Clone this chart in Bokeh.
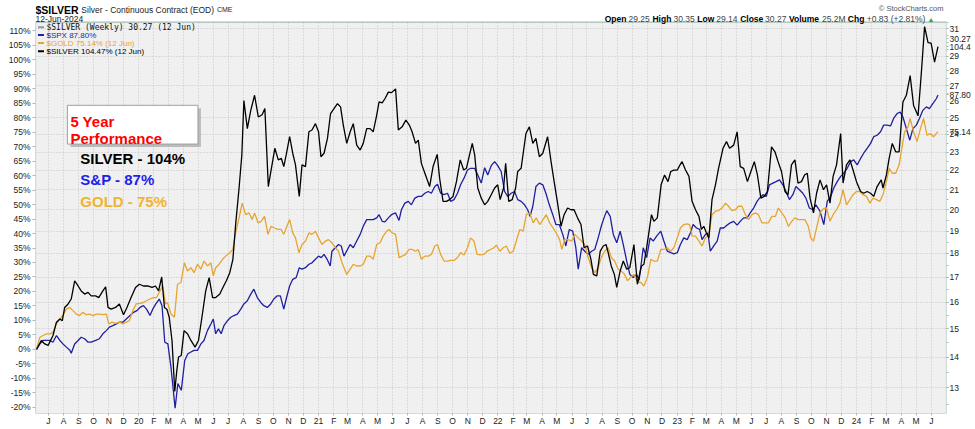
import numpy as np
import pandas as pd
from bokeh.plotting import figure
from bokeh.models import (Range1d, LogScale, LogAxis, FixedTicker, PrintfTickFormatter,
                          CustomJSTickFormatter, Label, Grid)
from bokeh.embed import file_html
from bokeh.resources import INLINE

# ---------------- data (weeks since first bar, % performance) ----------------
first_week = "2019-06-07"

silver_week = [0, 1.4, 2.4, 3.4, 4.8, 5.8, 6.8, 7.5, 8.2, 9.2, 10.1, 11.1, 12.1, 13.0, 14.0, 15.0, 15.9,
               17.2, 18.1, 19.3, 20.1, 20.8, 21.7, 23.0, 24.1, 25.3, 26.3, 27.5, 28.8, 29.9, 31.1, 32.3,
               33.6, 34.6, 35.5, 36.4, 37.2, 37.9, 38.6, 39.4, 40.2, 40.8, 41.3, 42.1, 42.9, 43.9, 44.9,
               46.1, 47.1, 48.1, 49.2, 50.2, 51.2, 52.1, 53.3, 54.2, 55.2, 56.2, 57.1, 57.9, 58.9, 59.7,
               60.3, 61.3, 62.3, 63.4, 64.5, 65.6, 66.4, 67.4, 68.3, 69.3, 70.3, 71.2, 71.9, 72.6, 73.6,
               74.5, 75.3, 76.4, 77.2, 78.2, 79.2, 80.1, 81.1, 82.0, 82.7, 83.6, 84.6, 85.5, 86.5, 87.5,
               88.4, 89.2, 90.2, 91.2, 92.1, 93.1, 94.1, 95.0, 96.0, 97.0, 97.9, 98.9, 99.6, 100.5, 101.3,
               102.3, 103.2, 104.4, 105.2, 106.3, 107.4, 108.4, 109.2, 110.2, 111.0, 111.9, 113.1, 114.3,
               115.3, 116.5, 117.2, 118.2, 119.2, 120.1, 121.1, 122.1, 123.2, 124.2, 125.0, 125.9, 126.7,
               127.4, 128.3, 129.3, 130.3, 131.2, 132.2, 133.2, 134.1, 134.8, 135.8, 136.4, 137.3, 138.3,
               139.3, 139.9, 140.9, 142.3, 143.3, 144.3, 145.2, 146.2, 147.2, 148.6, 149.6, 150.5, 151.5,
               152.5, 153.4, 154.4, 155.4, 156.3, 157.3, 158.3, 159.2, 160.2, 161.2, 161.9, 162.9, 163.9,
               164.8, 165.6, 166.2, 167.1, 168.0, 168.7, 169.7, 170.6, 171.6, 172.5, 173.7, 174.7, 175.9,
               176.6, 177.4, 178.1, 178.8, 179.5, 180.5, 181.6, 182.6, 183.6, 184.4, 185.3, 186.3, 187.1,
               187.7, 188.7, 189.7, 190.6, 191.6, 192.6, 193.3, 194.0, 194.8, 195.5, 196.4, 197.4, 198.3,
               199.6, 200.6, 201.5, 202.7, 203.7, 204.6, 205.6, 206.7, 207.7, 208.7, 209.6, 210.6, 211.6,
               212.5, 213.7, 214.7, 215.6, 216.6, 217.6, 218.5, 219.5, 220.5, 221.4, 222.4, 223.3, 224.1,
               224.9, 225.9, 226.8, 227.8, 228.8, 229.7, 230.7, 231.6, 232.6, 233.8, 234.5, 235.5, 236.5,
               237.4, 238.4, 239.6, 240.5, 241.5, 242.5, 243.4, 244.4, 245.6, 246.1, 247.1, 247.9, 248.8,
               249.8, 250.8, 251.9, 252.9, 254.0, 255.0, 256.3, 257.2, 258.2, 259.2, 260.1, 261.1, 262.1]
silver_pct = [0, 3.1, 1.9, 1.4, 4.8, 9.4, 10.5, 9.9, 14.5, 15.7, 17.4, 23.7, 21.9, 20.2, 19.1, 19.7, 18.5,
              18.5, 17.9, 20.2, 21.6, 14.5, 13.9, 14.5, 15.7, 12.0, 14.5, 17.9, 21.4, 22.5, 21.9, 21.9,
              21.4, 21.9, 20.2, 25.0, 14.5, 13.9, 11.1, 3.1, -14.5, -7.2, -2.6, -2.1, 6.5, 5.4, 3.1,
              0.8, 3.1, 11.1, 20.2, 24.8, 17.9, 17.9, 19.1, 21.4, 23.7, 26.5, 31.1, 43.1, 55.7, 67.1,
              85.9, 76.2, 82.5, 87.7, 80.2, 81.0, 83.1, 56.2, 62.5, 69.4, 65.4, 65.9, 63.1, 67.1, 73.4,
              67.7, 63.7, 52.8, 63.7, 63.1, 75.1, 75.7, 77.9, 75.1, 66.5, 67.7, 72.8, 81.4, 83.1, 84.8,
              83.7, 77.4, 71.1, 75.1, 77.9, 70.5, 68.8, 71.1, 76.2, 76.2, 75.1, 80.8, 85.4, 85.1, 86.5,
              88.8, 88.6, 89.9, 75.7, 76.8, 79.1, 77.4, 75.1, 71.1, 72.2, 64.2, 60.2, 56.2,
              63.1, 67.3, 59.1, 51.1, 51.1, 51.7, 52.8, 57.9, 65.4, 61.9, 62.5, 67.1, 71.1,
              67.1, 55.7, 52.2, 49.9, 51.1, 53.4, 55.7, 56.8, 51.7, 55.7, 64.2, 51.1, 51.7,
              55.7, 61.4, 62.5, 74.5, 76.8, 71.1, 72.8, 66.5, 67.7, 73.4, 64.8, 57.9, 50.5,
              42.5, 46.5, 48.8, 48.2, 48.2, 45.4, 43.1, 35.1, 35.7, 31.1, 25.9, 25.4, 33.9,
              35.7, 36.2, 33.4, 28.8, 25.9, 21.4, 27.1, 30.5, 27.7, 28.2, 36.2, 22.5, 28.8,
              29.4, 35.1, 40.8, 46.5, 44.2, 45.4, 56.8, 60.2, 57.9, 61.4, 61.9, 61.9, 63.7,
              64.8, 61.9, 59.7, 51.1, 48.2, 45.9, 41.4, 42.5, 40.2, 38.5, 51.7, 56.8, 62.5,
              69.4, 71.7, 69.4, 70.5, 75.1, 63.1, 62.5, 57.9, 61.4, 64.8, 60.2, 52.2, 52.8,
              54.5, 69.9, 68.2, 64.8, 61.4, 54.5, 53.4, 63.7, 65.4, 57.4, 57.9, 60.2, 60.8,
              52.2, 47.1, 53.9, 58.5, 55.1, 56.8, 50.5, 59.7, 63.7, 74.5, 57.4, 63.7, 65.4,
              61.9, 57.9, 54.5, 53.9, 54.5, 53.9, 52.8, 56.2, 58.5, 55.7, 60.2, 65.9, 71.1,
              68.2, 68.2, 85.4, 87.7, 94.5, 84.2, 80.6, 94.5, 111.4, 105.9, 105.7, 99.1, 104.47]

spx_week = [0, 1.0, 1.9, 2.9, 3.9, 4.8, 5.8, 6.8, 7.7, 8.7, 9.7, 10.1, 11.1, 12.1, 13.0, 14.0, 15.0, 15.9,
            17.2, 18.3, 19.3, 20.3, 21.2, 22.2, 23.2, 24.1, 25.1, 26.1, 27.2, 28.2, 29.2, 30.1, 31.1,
            32.0, 33.0, 33.8, 34.7, 35.7, 36.5, 37.3, 38.2, 39.1, 40.3, 41.1, 42.1, 43.1, 44.0, 44.9,
            45.8, 46.8, 47.8, 48.7, 49.7, 50.7, 51.4, 52.1, 52.9, 53.7, 54.5, 55.5, 56.5, 57.4, 58.4,
            59.4, 60.3, 61.3, 62.3, 63.2, 64.2, 65.2, 66.1, 67.1, 68.1, 69.0, 70.0, 70.9, 71.9, 72.6,
            73.6, 74.5, 75.5, 76.4, 77.2, 78.2, 79.2, 80.1, 81.1, 82.0, 82.8, 83.6, 84.5, 85.4, 85.9,
            86.9, 87.8, 88.6, 89.4, 91.2, 92.1, 93.1, 94.1, 95.0, 96.0, 97.0, 97.9, 98.9, 99.6, 100.5,
            101.3, 102.3, 103.2, 104.4, 105.4, 106.1, 107.1, 108.1, 109.0, 110.0, 111.0, 111.9, 112.9,
            113.9, 114.8, 115.8, 116.6, 117.5, 118.5, 119.5, 120.4, 121.4, 122.4, 123.3, 124.3, 125.3,
            126.2, 127.4, 128.3, 129.3, 130.3, 131.2, 132.2, 133.2, 134.1, 135.1, 136.1, 137.0, 138.0,
            139.0, 139.9, 140.9, 141.9, 142.8, 143.5, 144.3, 145.2, 146.2, 147.2, 148.1, 149.1, 150.1,
            151.0, 152.0, 153.0, 153.9, 154.9, 155.9, 156.8, 157.5, 158.5, 159.4, 160.4, 161.4, 162.3,
            163.3, 164.2, 165.0, 165.8, 166.8, 167.7, 168.7, 169.7, 170.6, 171.6, 172.5, 173.5, 174.5,
            175.2, 175.8, 176.4, 177.4, 178.4, 179.3, 180.3, 181.5, 182.4, 183.4, 184.4, 185.3, 186.3,
            187.2, 188.2, 189.2, 190.1, 190.9, 191.9, 192.8, 193.5, 194.5, 195.2, 195.9, 196.9, 197.9,
            198.8, 199.8, 200.8, 201.7, 202.7, 203.7, 204.6, 205.6, 206.6, 207.5, 208.5, 209.5, 210.2,
            211.2, 212.2, 213.1, 214.1, 215.0, 216.0, 217.0, 217.9, 218.9, 219.9, 220.8, 221.8, 222.8,
            223.7, 224.7, 225.7, 226.6, 227.8, 228.9, 229.9, 230.9, 231.8, 232.8, 233.8, 234.7, 235.7,
            236.7, 237.6, 238.6, 239.6, 240.5, 241.5, 242.5, 243.4, 244.4, 245.4, 246.3, 247.3, 248.3,
            249.2, 250.2, 251.1, 251.9, 252.9, 253.9, 254.8, 255.8, 256.7, 257.7, 258.7, 259.6, 260.6,
            261.6, 262.1]
spx_pct = [0, 1.9, 3.1, 3.1, 3.1, 2.5, 4.8, 3.1, 1.9, 0.8, -0.3, -1.3, 1.9, 3.1, 4.2, 3.7, 2.5, 2.5,
           3.1, 3.7, 5.4, 6.5, 7.7, 8.2, 8.8, 9.4, 9.4, 10.5, 11.7, 12.8, 13.4, 14.5, 15.1,
           13.9, 11.7, 13.9, 15.7, 17.4, 15.1, 2.5, 1.9, -6.1, -20.3, -11.8, -14.1, -3.8, -1.5, -0.9,
           -0.3, -0.3, 1.9, 3.1, 6.5, 8.8, 10.5, 5.4, 7.1, 5.4, 8.2, 9.9, 11.1, 11.7, 12.2,
           13.9, 15.7, 16.8, 19.1, 20.8, 17.9, 16.2, 15.1, 14.5, 15.7, 17.4, 18.5, 18.5, 13.9, 17.4,
           21.9, 24.2, 24.8, 28.2, 27.7, 28.2, 29.4, 29.9, 31.1, 32.2, 31.7, 32.8, 31.1, 28.8, 33.9,
           35.1, 36.2, 35.7, 32.2, 36.2, 35.1, 37.4, 39.7, 42.5, 44.8, 44.8, 44.8, 45.4, 46.5, 44.2,
           44.0, 45.4, 46.5, 47.1, 44.5, 48.2, 50.5, 51.1, 49.9, 52.2, 52.8, 52.8, 53.9,
           54.5, 53.9, 56.2, 57.0, 53.9, 53.4, 53.9, 51.1, 51.7, 53.9, 56.8, 59.1, 61.9,
           62.5, 62.5, 60.2, 57.4, 62.7, 60.2, 63.4, 64.8, 63.4, 61.4, 54.5, 52.8, 53.9,
           54.5, 51.7, 51.1, 49.9, 48.2, 45.9, 49.4, 56.2, 57.4, 56.8, 53.9, 49.9, 46.5,
           43.1, 43.1, 39.7, 35.7, 41.4, 40.8, 35.1, 27.7, 35.1, 33.9, 32.8, 33.9, 34.5,
           38.5, 42.5, 45.4, 47.9, 45.9, 39.7, 36.8, 40.8, 36.2, 30.5, 25.9, 24.8, 25.9,
           23.9, 29.4, 35.1, 31.7, 38.5, 37.4, 39.1, 40.8, 37.4, 33.9, 33.4, 33.0, 33.4,
           36.2, 38.5, 37.9, 40.2, 43.1, 41.9, 41.4, 37.9, 39.7, 40.2, 33.9, 35.7, 37.4,
           41.9, 41.9, 42.9, 43.7, 44.2, 42.9, 44.2, 45.4, 45.4, 47.1, 48.8, 51.1, 52.2,
           53.4, 52.8, 56.8, 57.4, 57.9, 58.5, 56.8, 54.5, 51.7, 53.4, 56.2, 55.1, 53.9,
           52.2, 48.8, 48.2, 49.9, 47.7, 43.1, 51.1, 52.8, 55.7, 57.9, 59.7, 60.8, 62.5,
           64.8, 65.4, 63.7, 65.9, 67.7, 69.4, 71.1, 73.4, 73.9, 75.1, 77.4, 77.4, 77.1,
           79.7, 81.4, 81.9, 80.2, 76.2, 72.2, 76.2, 77.4, 79.7, 82.5, 83.7, 83.1, 84.8,
           86.5, 87.80]

gold_week = [0, 1.0, 1.9, 2.9, 3.9, 4.8, 5.8, 6.8, 7.7, 8.7, 9.7, 10.6, 11.6, 12.5, 13.5, 14.5, 15.4,
             16.4, 17.4, 18.3, 19.3, 20.3, 21.0, 22.0, 23.0, 24.1, 25.1, 26.1, 27.0, 28.0, 29.0, 30.1,
             31.1, 32.0, 33.0, 34.0, 34.9, 35.9, 36.7, 37.5, 38.1, 39.1, 40.1, 41.0, 42.0, 43.0, 43.9,
             44.9, 45.8, 46.8, 47.8, 48.7, 49.7, 50.7, 51.4, 52.1, 53.1, 54.1, 55.0, 56.2, 57.1, 57.9,
             58.9, 59.8, 60.8, 61.8, 62.7, 63.4, 64.4, 65.3, 66.3, 67.3, 68.2, 69.2, 70.2, 71.1, 71.9,
             72.6, 73.6, 74.5, 75.3, 76.3, 77.2, 78.2, 79.2, 80.1, 81.1, 82.0, 83.0, 84.0, 84.9, 85.9,
             86.9, 87.8, 88.8, 90.2, 91.2, 92.1, 93.1, 94.1, 95.0, 96.0, 97.0, 97.9, 98.9, 99.9, 100.8,
             101.8, 102.5, 103.4, 104.4, 105.4, 106.3, 107.3, 108.3, 109.2, 110.2, 111.0, 111.9, 112.9,
             113.9, 114.8, 115.8, 116.6, 117.5, 118.5, 119.5, 120.4, 121.4, 122.4, 123.3, 124.3, 125.3,
             126.2, 127.2, 128.1, 129.1, 130.1, 131.0, 132.0, 133.0, 133.7, 134.7, 135.7, 136.6, 137.6,
             138.6, 139.5, 140.5, 141.5, 142.4, 143.4, 144.4, 145.3, 146.3, 147.3, 148.2, 149.2, 150.2,
             151.1, 152.1, 152.7, 153.6, 154.6, 155.6, 156.5, 157.5, 158.5, 159.4, 160.4, 161.4, 162.3,
             163.3, 164.2, 165.2, 166.2, 167.1, 168.1, 169.1, 170.0, 171.0, 171.8, 172.7, 173.7, 174.7,
             175.7, 176.6, 177.6, 178.6, 179.5, 180.5, 181.5, 182.4, 183.4, 184.4, 185.3, 186.3, 187.2,
             188.2, 189.2, 189.9, 190.6, 191.6, 192.6, 193.5, 194.5, 195.5, 196.4, 197.4, 198.3, 199.3,
             200.3, 201.2, 202.2, 203.2, 204.1, 205.1, 206.1, 207.0, 208.0, 209.0, 209.9, 210.9, 211.9,
             212.8, 213.8, 214.8, 215.7, 216.7, 217.7, 218.6, 219.6, 220.5, 221.5, 222.5, 223.4, 224.4,
             225.1, 225.9, 226.8, 227.8, 228.8, 229.7, 230.7, 231.6, 232.6, 233.6, 234.5, 235.5, 236.5,
             237.4, 238.4, 239.4, 240.3, 241.3, 242.3, 243.2, 244.2, 245.2, 246.1, 247.1, 247.9, 248.8,
             249.8, 250.8, 251.4, 252.4, 253.4, 254.0, 255.0, 256.0, 257.0, 257.9, 258.9, 259.8, 260.8,
             261.6, 262.1]
gold_pct = [0, 4.2, 4.8, 5.4, 5.4, 5.9, 8.8, 10.5, 11.7, 13.9, 14.5, 13.4, 12.2, 11.7, 12.8, 12.0, 12.2,
            11.7, 12.2, 12.2, 12.0, 12.2, 8.8, 9.4, 9.0, 9.4, 8.8, 9.4, 9.9, 13.4, 15.7, 15.9,
            16.2, 16.8, 17.4, 17.9, 17.9, 20.2, 21.9, 15.7, 16.2, 12.2, 11.1, 22.5, 23.1, 29.9, 27.1,
            28.2, 26.5, 29.4, 27.7, 30.5, 28.8, 29.9, 25.4, 28.2, 29.4, 31.1, 32.2, 33.4, 34.5, 40.2,
            45.4, 50.5, 46.5, 47.1, 44.8, 47.1, 43.7, 44.2, 45.9, 39.7, 42.5, 41.9, 41.4, 41.4, 39.7,
            41.9, 44.8, 40.2, 38.5, 33.4, 36.2, 37.4, 40.2, 39.7, 40.8, 38.5, 36.2, 37.4, 37.9, 36.8,
            35.1, 33.9, 30.0, 25.9, 27.7, 29.4, 28.8, 28.8, 29.4, 32.2, 32.2, 31.1, 36.2, 36.8, 39.1,
            40.8, 41.4, 40.2, 39.7, 31.7, 32.2, 32.8, 34.5, 34.5, 33.9, 34.5, 31.1, 32.2,
            32.2, 32.8, 35.7, 36.2, 32.8, 30.5, 30.5, 30.7, 30.7, 31.7, 33.4, 32.6, 35.1,
            38.5, 37.4, 32.8, 32.6, 32.8, 33.9, 34.5, 35.1, 36.0, 33.9, 35.1, 35.7, 33.1,
            33.9, 37.4, 41.4, 40.8, 46.5, 47.1, 43.7, 45.4, 43.1, 44.8, 46.5, 43.7, 41.9,
            40.2, 37.9, 34.5, 37.9, 37.9, 37.4, 39.7, 38.5, 37.4, 36.2, 31.7, 28.2, 26.5,
            28.2, 31.7, 33.9, 35.1, 31.7, 30.5, 27.7, 27.1, 25.9, 23.7, 24.8, 25.9, 23.4,
            23.1, 21.9, 24.8, 31.1, 30.5, 30.5, 34.5, 34.5, 35.1, 33.9, 35.1, 38.5, 41.9,
            43.1, 43.3, 43.1, 39.1, 39.1, 37.4, 35.7, 38.5, 39.7, 46.5, 47.7, 47.9, 48.8,
            50.5, 49.4, 47.9, 48.2, 49.4, 49.4, 46.5, 44.8, 46.5, 47.1, 46.5, 43.7, 43.7,
            43.7, 45.9, 45.9, 48.8, 47.1, 45.4, 42.5, 44.2, 45.4, 44.8, 44.8, 44.8, 42.5,
            38.5, 37.4, 41.9, 47.1, 48.6, 48.8, 44.2, 46.5, 48.2, 50.5, 55.1, 49.9, 51.7,
            53.4, 54.5, 54.5, 53.4, 52.8, 50.5, 52.2, 51.7, 51.1, 53.4, 57.9, 62.5, 60.8,
            60.8, 63.7, 68.2, 75.1, 76.8, 79.7, 75.1, 71.7, 76.2, 79.7, 73.9, 74.5, 73.4,
            74.5, 75.14]

pct_ticks = list(range(-20, 115, 5))
price_ticks = [13, 14, 15, 16, 17, 18, 19, 20, 21, 22, 23, 24, 25, 26, 27, 28, 29, 31]
price_grid = [13, 14, 15, 16, 17, 18, 19, 20, 21, 22, 23, 24, 25, 27, 29, 31]
month_letters = ["", "F", "M", "A", "M", "J", "J", "A", "S", "O", "N", "D"]
year_numbers = [2020, 2021, 2022, 2023, 2024]
year_labels = ["20", "21", "22", "23", "24"]
last_silver_price = 30.27
callout_pcts = [104.47, 87.80, 75.14]
callout_texts = ["104.4", "87.80", "75.14"]

# ---------------- geometry helpers ----------------
def ms(t):
    return pd.Timestamp(t).value / 1e6

def to_dates(weeks):
    return pd.Timestamp(first_week) + pd.to_timedelta(np.asarray(weeks, dtype=float) * 7, unit="D")

X0, X1 = ms("2019-06-05"), ms("2024-07-02")   # plot-area left / right edge
Y0, Y1 = -22.1, 112.96                         # plot-area bottom / top (percent)
P0, P1 = 12.22, 31.5                           # same edges on the price (log) scale

def xr(px):
    return X0 + (px - 36.0) / 914.0 * (X1 - X0)

def yr(py):
    return Y1 - (py - 22.7) / 394.0 * (Y1 - Y0)

YTOP = yr(1.0)                                 # frame top includes the header band
PTOP = float(np.exp(np.log(P1) + (YTOP - Y1) / (Y1 - Y0) * np.log(P1 / P0)))

def pct_to_price(v):
    f = (v - Y0) / (YTOP - Y0)
    return float(np.exp(np.log(P0) + f * np.log(PTOP / P0)))

SILVER_C = "#000000"
SPX_C = "#1f1fa0"
GOLD_C = "#e6a530"
AXIS_C = "#a3bdb5"
FONT = "Liberation Sans"

p = figure(width=973, height=428, x_axis_type="datetime",
           x_range=Range1d(X0, X1), y_range=Range1d(Y0, YTOP),
           output_backend="svg", toolbar_location=None, title=None,
           min_border_left=35, min_border_right=24, min_border_top=0, min_border_bottom=8)
p.background_fill_color = "white"
p.border_fill_color = "white"
p.outline_line_color = None

p.extra_y_ranges = {"price": Range1d(P0, PTOP)}
p.extra_y_scales = {"price": LogScale()}

month_ticks = [ms(d) for d in pd.date_range("2019-07-01", "2024-06-01", freq="MS")]

# x axis: month initials, two-digit year at January
xa = p.xaxis[0]
xa.ticker = FixedTicker(ticks=month_ticks)
xa.formatter = CustomJSTickFormatter(
    args=dict(letters=month_letters, yrs=year_numbers, ylab=year_labels),
    code="""
const d = new Date(tick);
const m = d.getUTCMonth();
if (m == 0) { const i = yrs.indexOf(d.getUTCFullYear()); return i >= 0 ? ylab[i] : ""; }
return letters[m];
""")
# left axis: percent
ya = p.yaxis[0]
ya.ticker = FixedTicker(ticks=pct_ticks)
ya.formatter = PrintfTickFormatter(format="%d%%")
# right axis: silver price (log), plus last-value callouts
callout_pos = [last_silver_price] + [pct_to_price(v) for v in callout_pcts]
callout_lab = ["30.27"] + callout_texts
ra = LogAxis(y_range_name="price",
             ticker=FixedTicker(ticks=price_ticks + callout_pos,
                                minor_ticks=list(np.arange(12.5, 31.6, 0.5))),
             formatter=CustomJSTickFormatter(args=dict(sp=callout_pos, st=callout_lab), code="""
for (let i = 0; i < sp.length; i++) { if (Math.abs(tick - sp[i]) < 1e-6) return st[i]; }
return tick.toFixed(0);
"""))
p.add_layout(ra, "right")

for ax in (xa, ya, ra):
    ax.axis_line_color = None
    ax.major_tick_line_color = AXIS_C
    ax.minor_tick_line_color = None
    ax.minor_tick_out = 0
    ax.minor_tick_in = 0
    ax.major_tick_in = 0
    ax.major_tick_out = 3
    ax.major_label_standoff = 2
    ax.major_label_text_font = FONT
    ax.major_label_text_font_size = "8.5px"
    ax.major_label_text_color = "#222222"
xa.major_tick_out = 2
xa.major_label_standoff = 0
ra.major_tick_out = 2
ra.major_label_standoff = 1
ra.minor_tick_line_color = AXIS_C
ra.minor_tick_out = 2

# grids
p.xgrid.ticker = FixedTicker(ticks=month_ticks)
p.xgrid.grid_line_color = "#c4c4c4"
p.xgrid.grid_line_dash = "1 2"
p.ygrid.visible = False
p.add_layout(Grid(dimension=1, y_range_name="price", ticker=FixedTicker(ticks=price_grid),
                  grid_line_color="#c4c4c4", grid_line_dash="1 2"))

# plot area background (below the grid) and white header band (hides grid there)
p.quad(left=[X0], right=[X1], bottom=[Y0], top=[Y1], fill_color="#f0f0f0",
       line_color=None, level="image")
p.quad(left=[X0], right=[X1], bottom=[Y1], top=[YTOP + 5], fill_color="white", line_color=None)

# series
p.line(to_dates(spx_week), spx_pct, line_color=SPX_C, line_width=1.3)
p.line(to_dates(gold_week), gold_pct, line_color=GOLD_C, line_width=1.3)
p.line(to_dates(silver_week), silver_pct, line_color=SILVER_C, line_width=1.3)

# plot-area border
p.quad(left=[X0], right=[X1], bottom=[Y0], top=[Y1], fill_color=None, line_color=AXIS_C,
       line_width=1.2)

def lab(x, y, text, size, color, style="normal", font=FONT, baseline="alphabetic",
        align="left", **kw):
    p.add_layout(Label(x=x, y=y, text=text, text_font=font, text_font_size=f"{size}px",
                       text_font_style=style, text_color=color, text_baseline=baseline,
                       text_align=align, **kw))

# header
lab(xr(36), yr(10.5), "$SILVER", 10.5, "#000000", style="bold")
lab(xr(82), yr(10.5), "Silver - Continuous Contract (EOD)", 8.5, "#222222")
lab(xr(218), yr(10.5), "CME", 7, "#222222")
lab(xr(36), yr(20.0), "12-Jun-2024", 8.5, "#222222")
lab(xr(947), yr(9.5), "\u00a9 StockCharts.com", 7.5, "#555555", align="right")
ohlc = [("Open", 607, True), ("29.25", 631, False), ("High", 655, True), ("30.35", 676, False),
        ("Low", 700, True), ("29.14", 719, False), ("Close", 743, True), ("30.27", 768, False),
        ("Volume", 792, True), ("25.2M", 825, False), ("Chg", 851, True),
        ("+0.83 (+2.81%)", 870, False)]
for t, px, b in ohlc:
    lab(xr(px), yr(20.0), t, 8.5, "#000000" if b else "#444444", style="bold" if b else "normal")
lab(xr(931), yr(20.0), "\u25b2", 7, "#22aa33")

# in-plot legend
leg = [("$SILVER (Weekly) 30.27 (12 Jun)", "#8a9aa8", "#111111", 27.8, "DejaVu Sans Mono", 8),
       ("$SPX 87.80%", SPX_C, SPX_C, 35.8, FONT, 8),
       ("$GOLD 75.14% (12 Jun)", GOLD_C, GOLD_C, 43.8, FONT, 8),
       ("$SILVER 104.47% (12 Jun)", SILVER_C, SILVER_C, 52.0, FONT, 8)]
for t, dc, tc, py, f, s in leg:
    p.segment(x0=[xr(38.5)], y0=[yr(py)], x1=[xr(44.5)], y1=[yr(py)], line_color=dc, line_width=2)
    lab(xr(47), yr(py), t, s, tc, font=f, baseline="middle")

# annotation box
p.quad(left=[xr(71)], right=[xr(202)], top=[yr(109.5)], bottom=[yr(148.5)],
       fill_color="#9a9a9a", fill_alpha=0.6, line_color=None)
p.quad(left=[xr(68)], right=[xr(199)], top=[yr(106.5)], bottom=[yr(145.5)],
       fill_color="white", line_color="#a0a0a0", line_width=1)
lab(xr(71), yr(123), "5 Year", 15, "#ff0000", style="bold")
lab(xr(71), yr(139.5), "Performance", 15, "#ff0000", style="bold")
lab(xr(81), yr(160.5), "SILVER - 104%", 15, "#000000", style="bold")
lab(xr(81), yr(181), "S&P - 87%", 15, "#1f1fe6", style="bold")
lab(xr(81), yr(203), "GOLD - 75%", 15, "#f0b432", style="bold")

open("out.html", "w").write(file_html(p, INLINE))
